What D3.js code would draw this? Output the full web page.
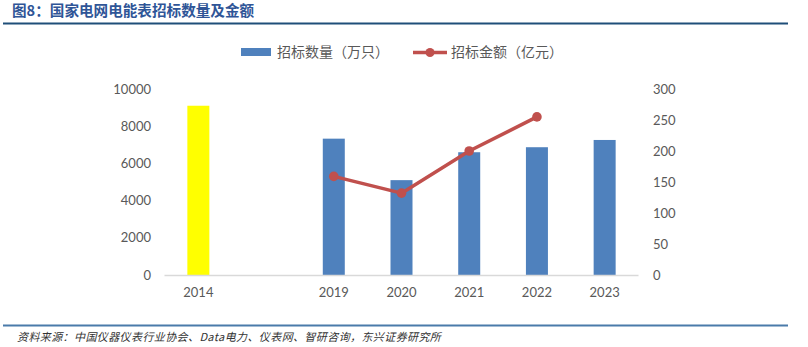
<!DOCTYPE html>
<html>
<head>
<meta charset="utf-8">
<script src="https://cdn.jsdelivr.net/npm/d3@7/dist/d3.min.js"></script>
<style>
  html, body { margin: 0; padding: 0; background: #fff; }
  svg { display: block; }
</style>
</head>
<body>
<svg id="chart" width="808" height="347"></svg>
<script>
// Categories (the blank slot keeps the gap between 2014 and 2019)
const categories = ["2014", "gap", "2019", "2020", "2021", "2022", "2023"];
const categoryLabels = ["2014", "", "2019", "2020", "2021", "2022", "2023"];
// 招标数量（万只）
const quantity = [9100, null, 7330, 5100, 6600, 6870, 7260];
// 招标金额（亿元）
const amount = [null, null, 159, 132, 200, 255, null];
const leftTicks = [0, 2000, 4000, 6000, 8000, 10000];
const rightTicks = [0, 50, 100, 150, 200, 250, 300];

const svg = d3.select("#chart");
const cjk = "'Noto Sans CJK SC', 'Noto Sans', sans-serif";
const num = "Lato, 'Open Sans', 'Liberation Sans', sans-serif";

// Header
svg.append("text")
  .attr("x", 12).attr("y", 16)
  .attr("font-family", cjk).attr("font-size", 14.6).attr("font-weight", "bold")
  .attr("fill", "#2F5597")
  .text("图8：国家电网电能表招标数量及金额");
svg.append("line")
  .attr("x1", 3).attr("x2", 788).attr("y1", 23.5).attr("y2", 23.5)
  .attr("stroke", "#1F4E79").attr("stroke-width", 2);

// Footer
svg.append("line")
  .attr("x1", 3).attr("x2", 788).attr("y1", 325.5).attr("y2", 325.5)
  .attr("stroke", "#4A7BAA").attr("stroke-width", 2);
svg.append("text")
  .attr("x", 17).attr("y", 341)
  .attr("font-family", cjk).attr("font-size", 11).attr("font-style", "italic")
  .attr("letter-spacing", 0.4)
  .attr("fill", "#333")
  .text("资料来源：中国仪器仪表行业协会、Data电力、仪表网、智研咨询，东兴证券研究所");

// Scales
const x = d3.scaleBand().domain(categories).range([164.5, 638.5]).padding(0);
const yL = d3.scaleLinear().domain([0, 10000]).range([275, 89]);
const yR = d3.scaleLinear().domain([0, 300]).range([275, 89]);

// Left axis
const axL = svg.append("g").attr("transform", "translate(151,0)")
  .call(d3.axisLeft(yL).tickValues(leftTicks).tickFormat(d3.format("d")).tickSize(0).tickPadding(0));
axL.select(".domain").remove();
axL.selectAll("text").attr("font-family", num).attr("font-size", 13).attr("fill", "#595959");

// Right axis
const axR = svg.append("g").attr("transform", "translate(653,0)")
  .call(d3.axisRight(yR).tickValues(rightTicks).tickFormat(d3.format("d")).tickSize(0).tickPadding(0));
axR.select(".domain").remove();
axR.selectAll("text").attr("font-family", num).attr("font-size", 13).attr("fill", "#595959");

// Bars
const barW = 22;
const bars = categories.map((c, i) => ({ c, v: quantity[i] })).filter(d => d.v != null);
svg.append("g").selectAll("rect").data(bars).join("rect")
  .attr("x", d => x(d.c) + x.bandwidth() / 2 - barW / 2)
  .attr("width", barW)
  .attr("y", d => yL(d.v))
  .attr("height", d => yL(0) - yL(d.v))
  .attr("fill", d => d.c === "2014" ? "#FFFF00" : "#4F81BD");

// Baseline
svg.append("line")
  .attr("x1", x.range()[0]).attr("x2", x.range()[1])
  .attr("y1", yL(0) + 0.5).attr("y2", yL(0) + 0.5)
  .attr("stroke", "#D9D9D9").attr("stroke-width", 1.5);

// Category axis
const axB = svg.append("g").attr("transform", `translate(0,${yL(0)})`)
  .call(d3.axisBottom(x).tickSize(0).tickPadding(13)
    .tickFormat(d => categoryLabels[categories.indexOf(d)]));
axB.select(".domain").remove();
axB.selectAll("text").attr("font-family", num).attr("font-size", 13).attr("fill", "#595959");

// Amount line
const pts = categories.map((c, i) => ({ c, v: amount[i] })).filter(d => d.v != null);
const line = d3.line().x(d => x(d.c) + x.bandwidth() / 2).y(d => yR(d.v));
svg.append("path").datum(pts)
  .attr("d", line).attr("fill", "none")
  .attr("stroke", "#C0504D").attr("stroke-width", 3.5).attr("stroke-linejoin", "round");
svg.append("g").selectAll("circle").data(pts).join("circle")
  .attr("cx", d => x(d.c) + x.bandwidth() / 2)
  .attr("cy", d => yR(d.v))
  .attr("r", 4.8).attr("fill", "#C0504D");

// Legend
const lg = svg.append("g");
lg.append("rect").attr("x", 241).attr("y", 48).attr("width", 30).attr("height", 8).attr("fill", "#4F81BD");
lg.append("text").attr("x", 277).attr("y", 57)
  .attr("font-family", cjk).attr("font-size", 14).attr("fill", "#595959")
  .text("招标数量（万只）");
lg.append("line").attr("x1", 413).attr("x2", 447).attr("y1", 52.5).attr("y2", 52.5)
  .attr("stroke", "#C0504D").attr("stroke-width", 3.5);
lg.append("circle").attr("cx", 430).attr("cy", 52.5).attr("r", 4.5).attr("fill", "#C0504D");
lg.append("text").attr("x", 451).attr("y", 57)
  .attr("font-family", cjk).attr("font-size", 14).attr("fill", "#595959")
  .text("招标金额（亿元）");
</script>
</body>
</html>
